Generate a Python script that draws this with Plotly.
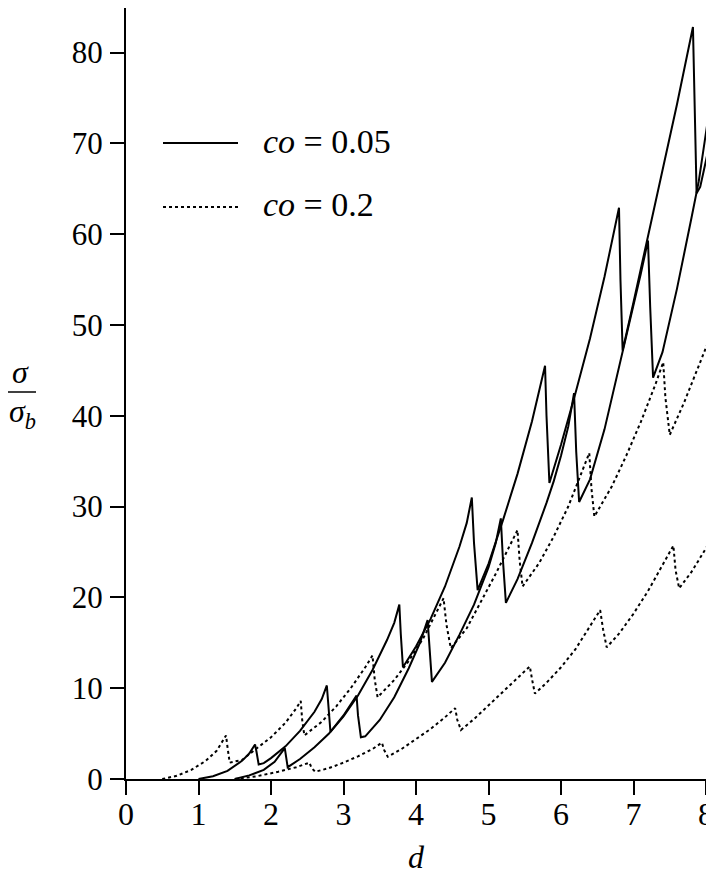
import plotly.graph_objects as go

# co = 0.05 (solid) curve A
s1_x = [1.00, 1.20, 1.40, 1.60, 1.70, 1.78, 1.80, 1.83,
        1.90, 2.00, 2.20, 2.40, 2.60, 2.70, 2.77, 2.79, 2.82,
        3.00, 3.20, 3.40, 3.60, 3.70, 3.77, 3.79, 3.82,
        4.00, 4.20, 4.40, 4.60, 4.70, 4.77, 4.80, 4.85,
        5.00, 5.20, 5.40, 5.60, 5.78, 5.80, 5.84,
        6.00, 6.20, 6.40, 6.60, 6.80, 6.82, 6.85,
        7.00, 7.20, 7.40, 7.60, 7.82, 7.84, 7.87,
        7.92, 8.03]
s1_y = [0.0, 0.3, 0.9, 2.0, 2.8, 3.8, 3.0, 1.6,
        1.75, 2.3, 3.6, 5.3, 7.4, 8.8, 10.3, 8.0, 5.2,
        6.9, 9.2, 12.0, 15.3, 17.2, 19.2, 16.0, 12.3,
        14.6, 17.6, 21.2, 25.6, 28.2, 31.0, 26.0, 20.8,
        23.7, 28.5, 33.6, 39.4, 45.5, 40.0, 32.6,
        36.8, 42.5, 48.5, 55.3, 62.9, 55.0, 47.2,
        52.5, 59.8, 67.0, 74.3, 82.8, 74.0, 64.5,
        65.2, 69.2]

# co = 0.05 (solid) curve B
s2_x = [1.50, 1.70, 1.90, 2.05, 2.19, 2.21, 2.23,
        2.40, 2.60, 2.80, 3.00, 3.18, 3.20, 3.24,
        3.30, 3.50, 3.70, 3.90, 4.05, 4.16, 4.19, 4.22,
        4.40, 4.60, 4.80, 5.00, 5.10, 5.17, 5.20, 5.24,
        5.40, 5.60, 5.80, 5.90, 6.00, 6.10, 6.18, 6.21, 6.25,
        6.40, 6.60, 6.80, 6.90, 7.00, 7.10, 7.20, 7.23, 7.27,
        7.40, 7.60, 7.80, 7.90, 8.03]
s2_y = [0.0, 0.4, 1.0, 1.9, 3.4, 2.3, 1.3,
        2.2, 3.5, 5.0, 7.0, 9.2, 7.0, 4.6,
        4.7, 6.5, 9.0, 12.2, 14.9, 17.5, 14.0, 10.7,
        12.8, 15.9, 19.2, 23.3, 26.0, 28.7, 24.0, 19.4,
        22.0, 26.0, 30.4, 32.8, 35.6, 38.8, 42.5, 36.0, 30.5,
        33.0, 38.5, 45.5, 49.0, 52.2, 55.6, 59.3, 52.0, 44.2,
        47.0, 54.0, 61.8, 65.8, 72.8]

# co = 0.2 (dotted) upper curve
d1_x = [0.50, 0.70, 0.90, 1.10, 1.25, 1.38, 1.40, 1.43,
        1.60, 1.80, 2.00, 2.20, 2.35, 2.41, 2.43, 2.46,
        2.70, 2.90, 3.10, 3.30, 3.40, 3.43, 3.47,
        3.70, 3.90, 4.10, 4.30, 4.38, 4.42, 4.48,
        4.70, 4.90, 5.10, 5.30, 5.40, 5.43, 5.47,
        5.70, 5.90, 6.10, 6.30, 6.39, 6.42, 6.46,
        6.70, 6.90, 7.10, 7.30, 7.41, 7.44, 7.50,
        7.70, 7.90, 8.03]
d1_y = [0.0, 0.35, 1.0, 2.0, 3.1, 4.8, 3.5, 1.8,
        2.1, 3.3, 4.6, 6.2, 7.8, 8.6, 6.5, 4.8,
        6.3, 8.0, 10.0, 12.3, 13.6, 11.0, 9.0,
        10.9, 13.0, 15.5, 18.6, 19.9, 17.0, 14.4,
        16.6, 19.6, 22.6, 25.8, 27.4, 24.0, 21.2,
        23.8, 26.7, 30.0, 34.0, 35.9, 32.0, 28.9,
        32.2, 35.6, 39.3, 43.4, 45.9, 42.0, 37.9,
        41.5, 45.5, 48.1]

# co = 0.2 (dotted) lower curve
d2_x = [1.50, 1.80, 2.10, 2.35, 2.53, 2.56, 2.61,
        2.80, 3.00, 3.20, 3.40, 3.53, 3.56, 3.61,
        3.80, 4.00, 4.20, 4.40, 4.54, 4.57, 4.62,
        4.80, 5.00, 5.20, 5.40, 5.57, 5.60, 5.64,
        5.80, 6.00, 6.20, 6.40, 6.54, 6.58, 6.63,
        6.80, 7.00, 7.20, 7.40, 7.55, 7.58, 7.63,
        7.80, 8.03]
d2_y = [0.0, 0.3, 0.8, 1.3, 1.8, 1.2, 0.8,
        1.2, 1.8, 2.5, 3.3, 4.0, 3.2, 2.45,
        3.3, 4.4, 5.5, 6.8, 7.8, 6.5, 5.4,
        6.6, 8.1, 9.6, 11.1, 12.4, 11.0, 9.4,
        10.6, 12.3, 14.3, 16.8, 18.6, 16.5, 14.5,
        16.0, 18.2, 20.7, 23.5, 25.7, 23.0, 21.0,
        22.8, 25.8]

x_ticks = [0, 1, 2, 3, 4, 5, 6, 7, 8]
y_ticks = [0, 10, 20, 30, 40, 50, 60, 70, 80]
legend_labels = ["<i>co</i> = 0.05", "<i>co</i> = 0.2"]

FONT = "Liberation Serif"
OFF = 8  # page body margin offset of the plot div
W, H = 698, 866
ML, MR, MT, MB = 118, 0, 0, 95
PW = W - ML - MR
PH = H - MT - MB


def sx(px):
    """screen pixel x -> paper x"""
    return (px - OFF - ML) / PW


def sy(py):
    """screen pixel y -> paper y"""
    return (H - MB - (py - OFF)) / PH


fig = go.Figure()
line_solid = dict(color="black", width=2)
line_dot = dict(color="black", width=2, dash="dot")
fig.add_trace(go.Scatter(x=s1_x, y=s1_y, mode="lines", line=line_solid, showlegend=False))
fig.add_trace(go.Scatter(x=s2_x, y=s2_y, mode="lines", line=line_solid, showlegend=False))
fig.add_trace(go.Scatter(x=d1_x, y=d1_y, mode="lines", line=line_dot, showlegend=False))
fig.add_trace(go.Scatter(x=d2_x, y=d2_y, mode="lines", line=line_dot, showlegend=False))

# legend samples (drawn manually)
for i, (lbl, ln) in enumerate(zip(legend_labels, [line_solid, line_dot])):
    py = 143 if i == 0 else 207
    fig.add_shape(type="line", xref="paper", yref="paper",
                  x0=sx(163), x1=sx(238), y0=sy(py), y1=sy(py), line=ln)
    fig.add_annotation(text=lbl, xref="paper", yref="paper",
                       x=sx(261), y=sy(py - 2),
                       xanchor="left", yanchor="middle", showarrow=False,
                       font=dict(family=FONT, size=34, color="black"))

# y-axis title as a fraction
fig.add_annotation(text="<i>σ</i>", xref="paper", yref="paper",
                   x=sx(20), y=sy(372),
                   xanchor="center", yanchor="middle", showarrow=False,
                   font=dict(family=FONT, size=32, color="black"))
fig.add_shape(type="line", xref="paper", yref="paper",
              x0=sx(5), x1=sx(36), y0=sy(392), y1=sy(392),
              line=dict(color="black", width=1.5))
fig.add_annotation(text="<i>σ<sub>b</sub></i>", xref="paper", yref="paper",
                   x=sx(22), y=sy(413),
                   xanchor="center", yanchor="middle", showarrow=False,
                   font=dict(family=FONT, size=32, color="black"))
# x-axis title
fig.add_annotation(text="<i>d</i>", xref="paper", yref="paper",
                   x=sx(417), y=sy(857),
                   xanchor="center", yanchor="middle", showarrow=False,
                   font=dict(family=FONT, size=32, color="black"))

fig.update_layout(
    width=W, height=H,
    margin=dict(l=ML, r=MR, t=MT, b=MB),
    plot_bgcolor="white", paper_bgcolor="white",
    font=dict(family=FONT, size=31, color="black"),
    xaxis=dict(range=[0, 8.0], tickvals=x_ticks, ticktext=[str(v) for v in x_ticks],
               showgrid=False, zeroline=False, showline=True, linecolor="black",
               linewidth=2, ticks="outside", ticklen=14, tickwidth=2, tickcolor="black",
               ticklabelstandoff=-8, ticklabeloverflow="allow", automargin=False,
               tickfont=dict(family=FONT, size=32, color="black")),
    yaxis=dict(range=[0, 84.9], tickvals=y_ticks, ticktext=[str(v) for v in y_ticks],
               showgrid=False, zeroline=False, showline=True, linecolor="black",
               linewidth=2, ticks="outside", ticklen=14, tickwidth=2, tickcolor="black",
               ticklabelstandoff=1, automargin=False,
               tickfont=dict(family=FONT, size=31, color="black")),
)

fig.write_html("out.html")
